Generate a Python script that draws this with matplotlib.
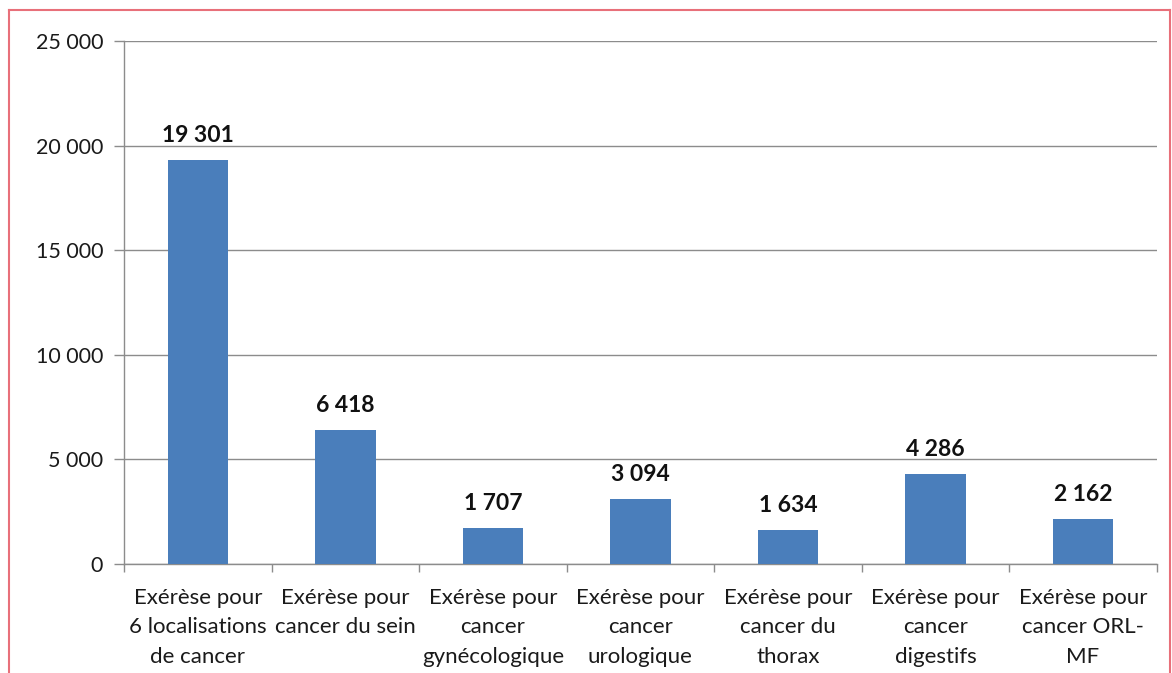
import matplotlib

matplotlib.use("Agg")
import matplotlib.pyplot as plt
from matplotlib.lines import Line2D
from matplotlib.ticker import FuncFormatter, MultipleLocator

categories = [
    "Exérèse pour\n6 localisations\nde cancer",
    "Exérèse pour\ncancer du sein",
    "Exérèse pour\ncancer\ngynécologique",
    "Exérèse pour\ncancer\nurologique",
    "Exérèse pour\ncancer du\nthorax",
    "Exérèse pour\ncancer\ndigestifs",
    "Exérèse pour\ncancer ORL-\nMF",
]
values = [19301, 6418, 1707, 3094, 1634, 4286, 2162]


def fr_num(v, pos=None):
    return f"{int(v):,}".replace(",", " ")


plt.rcParams["font.family"] = ["Lato", "DejaVu Sans"]

fig = plt.figure(figsize=(11.72, 6.73), dpi=100)
ax = fig.add_axes([0.1058, 0.162, 0.8812, 0.777])

x = range(len(values))
bars = ax.bar(x, values, width=0.41, color="#4a7ebb", zorder=3)

for bar, v in zip(bars, values):
    ax.annotate(
        fr_num(v),
        (bar.get_x() + bar.get_width() / 2, v),
        xytext=(0, 10),
        textcoords="offset points",
        ha="center",
        va="bottom",
        fontsize=16.5,
        fontweight="bold",
        color="#111111",
    )

ax.set_xlim(-0.5, len(values) - 0.5)
ax.set_ylim(0, 25000)
ax.yaxis.set_major_locator(MultipleLocator(5000))
ax.yaxis.set_major_formatter(FuncFormatter(fr_num))
ax.grid(axis="y", color="#8c8c8c", linewidth=1.0, zorder=0)

ax.set_xticks(list(x))
ax.set_xticklabels(categories, fontsize=16, linespacing=1.6, color="#1a1a1a")
ax.set_xticks([i - 0.5 for i in range(len(values) + 1)], minor=True)
ax.tick_params(axis="x", which="major", length=0, pad=17)
ax.tick_params(axis="x", which="minor", length=6, color="#8c8c8c", width=1)
ax.tick_params(axis="y", length=7, color="#8c8c8c", width=1, labelsize=15.5,
               labelcolor="#1a1a1a", pad=8)

for side in ("top", "right"):
    ax.spines[side].set_visible(False)
for side in ("left", "bottom"):
    ax.spines[side].set_color("#8c8c8c")
    ax.spines[side].set_linewidth(1.0)

# red frame around the figure (open at the bottom)
red = "#e8707a"
fx0, fx1 = 9 / 1172, 1170 / 1172
fy1 = 1 - 10 / 673
fig.add_artist(Line2D([fx0, fx0], [0, fy1], color=red, linewidth=1.5))
fig.add_artist(Line2D([fx0, fx1], [fy1, fy1], color=red, linewidth=1.5))
fig.add_artist(Line2D([fx1, fx1], [0, fy1], color=red, linewidth=1.5))

fig.savefig("out.png", dpi=100)
